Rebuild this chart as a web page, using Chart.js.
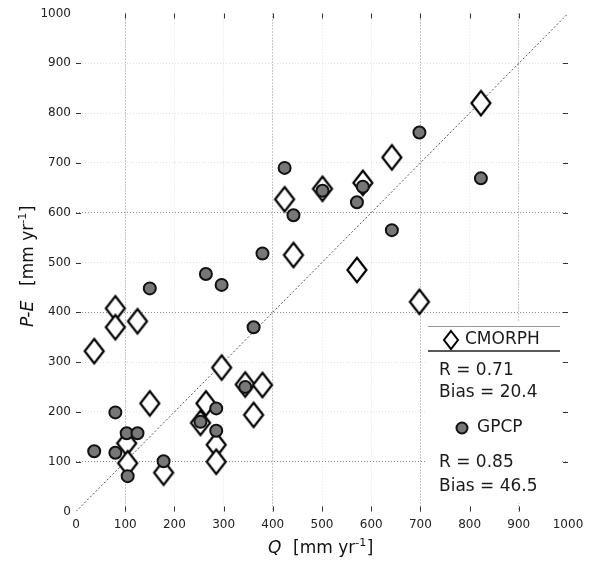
<!DOCTYPE html>
<html>
<head>
<meta charset="utf-8">
<script src="https://cdn.jsdelivr.net/npm/chart.js@4"></script>
<style>
  body { margin: 0; background: #fff; }
  #wrap { width: 590px; height: 562px; }
</style>
</head>
<body>
<div id="wrap"><canvas id="scatterChart" width="590" height="562"></canvas></div>
<script>
// basin runoff Q and P-E from the two products (mm/yr)
const Q      = [37, 80, 80, 103, 105, 125, 150, 178, 253, 264, 285, 285, 296, 344, 361, 379, 424, 442, 501, 571, 583, 642, 698, 823]
const cmorph = [322, 408, 370, 137, 97, 382, 217, 78, 178, 217, 134, 100, 289, 255, 194, 254, 627, 515, 648, 485, 660, 711, 421, 820]
const gpcp   = [121, 199, 118, 157, 71, 157, 448, 101, 180, 477, 207, 162, 455, 250, 370, 518, 690, 595, 644, 621, 652, 565, 761, 669]
const oneToOne = [0, 1000]
const tickValues = [0, 100, 200, 300, 400, 500, 600, 700, 800, 900, 1000]
const cmorphStats = ['R = 0.71', 'Bias = 20.4']
const gpcpStats = ['R = 0.85', 'Bias = 46.5']

const darkX = [100, 400, 700, 900]
const darkY = [100, 400, 600]

function diamondPath(ctx, cx, cy, hw, hh) {
  ctx.beginPath()
  ctx.moveTo(cx, cy - hh)
  ctx.lineTo(cx + hw, cy)
  ctx.lineTo(cx, cy + hh)
  ctx.lineTo(cx - hw, cy)
  ctx.closePath()
}

// tall open diamond used as point style
const diamond = document.createElement('canvas')
diamond.width = 24
diamond.height = 30
{
  const d = diamond.getContext('2d')
  diamondPath(d, 12, 15, 9.5, 12.2)
  d.fillStyle = '#fff'
  d.fill()
  d.lineWidth = 2.2
  d.lineJoin = 'miter'
  d.strokeStyle = '#000'
  d.stroke()
}

function gridColor(dark) {
  return c => {
    const v = c.tick ? c.tick.value : null
    if (v === 0 || v === 1000) return 'rgba(0,0,0,0)'
    return dark.includes(v) ? '#8c8c8c' : '#e0e0e0'
  }
}

const font = 'DejaVu Sans'

const extras = {
  id: 'extras',
  afterDraw(chart) {
    const ctx = chart.ctx
    const xs = chart.scales.x, ys = chart.scales.y
    const a = chart.chartArea
    ctx.save()

    // legend panel
    ctx.fillStyle = '#fff'
    ctx.fillRect(427, 321, 134, 182)
    ctx.strokeStyle = '#9a9a9a'
    ctx.lineWidth = 1
    ctx.beginPath(); ctx.moveTo(428, 326.5); ctx.lineTo(560, 326.5); ctx.stroke()
    ctx.strokeStyle = '#222'
    ctx.lineWidth = 1.3
    ctx.beginPath(); ctx.moveTo(428, 351); ctx.lineTo(560, 351); ctx.stroke()

    diamondPath(ctx, 451, 340, 7, 9)
    ctx.fillStyle = '#fff'; ctx.fill()
    ctx.lineWidth = 2; ctx.strokeStyle = '#000'; ctx.stroke()

    ctx.beginPath(); ctx.arc(462, 428, 5.5, 0, Math.PI * 2)
    ctx.fillStyle = '#777'; ctx.fill()
    ctx.lineWidth = 2; ctx.strokeStyle = '#111'; ctx.stroke()

    ctx.fillStyle = '#1a1a1a'
    ctx.font = '17px "' + font + '"'
    ctx.textBaseline = 'middle'
    ctx.textAlign = 'left'
    ctx.fillText('CMORPH', 465, 340)
    ctx.fillText(cmorphStats[0], 439, 371)
    ctx.fillText(cmorphStats[1], 439, 393)
    ctx.fillText('GPCP', 477, 428)
    ctx.fillText(gpcpStats[0], 439, 463)
    ctx.fillText(gpcpStats[1], 439, 487)

    // inward tick marks on all four sides
    ctx.strokeStyle = '#333'
    ctx.lineWidth = 1
    ctx.beginPath()
    tickValues.slice(1, -1).forEach(v => {
      const x = Math.round(xs.getPixelForValue(v)) + 0.5
      const y = Math.round(ys.getPixelForValue(v)) + 0.5
      ctx.moveTo(x, a.top); ctx.lineTo(x, a.top + 5)
      ctx.moveTo(x, a.bottom); ctx.lineTo(x, a.bottom - 5)
      ctx.moveTo(a.left, y); ctx.lineTo(a.left + 5, y)
      ctx.moveTo(a.right - 5, y); ctx.lineTo(a.right, y)
    })
    ctx.stroke()

    // axis titles
    ctx.fillStyle = '#111'
    ctx.textBaseline = 'alphabetic'
    const unit = (x0, y0) => {
      ctx.font = '17px "' + font + '"'
      ctx.fillText('[mm yr', x0, y0)
      let x = x0 + ctx.measureText('[mm yr').width
      ctx.font = '11px "' + font + '"'
      ctx.fillText('-1', x, y0 - 7)
      x += ctx.measureText('-1').width + 0.5
      ctx.font = '17px "' + font + '"'
      ctx.fillText(']', x, y0)
    }
    ctx.font = 'italic 17px "' + font + '"'
    ctx.fillText('Q', 268, 553)
    unit(293, 553)

    ctx.translate(33, 327)
    ctx.rotate(-Math.PI / 2)
    ctx.font = 'italic 17px "' + font + '"'
    ctx.fillText('P-E', 0, 0)
    unit(41, 0)

    ctx.restore()
  }
}

const ctx = document.getElementById('scatterChart').getContext('2d')

const myChart = new Chart(ctx, {
  type: 'scatter',
  data: {
    datasets: [
      {
        label: 'GPCP',
        data: Q.map((q, i) => ({ x: q, y: gpcp[i] })),
        pointStyle: 'circle',
        pointRadius: 6,
        pointBorderWidth: 2,
        backgroundColor: '#777',
        borderColor: '#111',
        order: 1
      },
      {
        label: 'CMORPH',
        data: Q.map((q, i) => ({ x: q, y: cmorph[i] })),
        pointStyle: diamond,
        pointRadius: 10,
        order: 2
      },
      {
        type: 'line',
        label: '1:1',
        data: oneToOne.map(v => ({ x: v, y: v })),
        borderColor: '#555',
        borderWidth: 1,
        borderDash: [2, 2],
        pointRadius: 0,
        order: 3
      }
    ]
  },
  options: {
    responsive: false,
    animation: false,
    layout: { padding: { left: 0, top: 13.5, right: 22, bottom: 0 } },
    plugins: { legend: { display: false }, tooltip: { enabled: false } },
    scales: {
      x: {
        type: 'linear',
        min: 0,
        max: 1000,
        afterBuildTicks: s => { s.ticks = tickValues.map(v => ({ value: v })) },
        afterFit: s => { s.height = 50.5 },
        ticks: { padding: 6, color: '#222', font: { family: font, size: 12 }, maxRotation: 0, callback: v => String(v) },
        grid: { color: gridColor(darkX), drawTicks: false, lineWidth: 1 },
        border: { display: false, dash: [1, 2] }
      },
      y: {
        type: 'linear',
        min: 0,
        max: 1000,
        afterBuildTicks: s => { s.ticks = tickValues.map(v => ({ value: v })) },
        afterFit: s => { s.width = 76 },
        ticks: { padding: 5, color: '#222', font: { family: font, size: 12 }, callback: v => String(v) },
        grid: { color: gridColor(darkY), drawTicks: false, lineWidth: 1 },
        border: { display: false, dash: [1, 2] }
      }
    }
  },
  plugins: [extras]
})
</script>
</body>
</html>
